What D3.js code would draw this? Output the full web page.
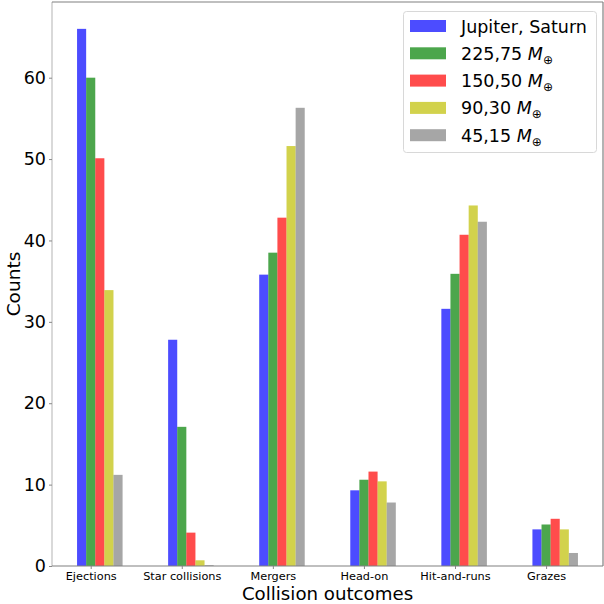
<!DOCTYPE html>
<html>
<head>
<meta charset="utf-8">
<script src="https://cdn.jsdelivr.net/npm/d3@7"></script>
<style>
  html, body { margin: 0; padding: 0; background: #fff; }
  svg { display: block; font-family: "DejaVu Sans", sans-serif; }
</style>
</head>
<body>
<svg id="chart" width="604" height="604"></svg>
<script>
// Collision outcome categories
const categories = ["Ejections", "Star collisions", "Mergers", "Head-on", "Hit-and-runs", "Grazes"];

// Counts for each planet-mass configuration
const jupiterSaturn = [66.0, 27.8, 35.8, 9.3, 31.6, 4.5];
const m225_75       = [60.0, 17.1, 38.5, 10.6, 35.9, 5.1];
const m150_50       = [50.1, 4.1, 42.8, 11.6, 40.7, 5.8];
const m90_30        = [33.9, 0.7, 51.6, 10.4, 44.3, 4.5];
const m45_15        = [11.2, 0.1, 56.3, 7.8, 42.3, 1.6];

const seriesNames = ["Jupiter, Saturn", "225,75", "150,50", "90,30", "45,15"];
const yTicks = [0, 10, 20, 30, 40, 50, 60];

const seriesValues = [jupiterSaturn, m225_75, m150_50, m90_30, m45_15];
const colors = ["#0000ff", "#008000", "#ff0000", "#bfbf00", "#808080"];
const barAlpha = 0.7;

const svg = d3.select("#chart");
const margin = { left: 52, right: 1, top: 2, bottom: 38 };
const W = 604, H = 604;

const barW = 0.1;
// offsets of each series relative to the category tick (tick sits on the 2nd bar)
const offsets = seriesValues.map((_, i) => (i - 1) * barW);

const xMin = -0.15 - 0.275, xMax = 5.35 + 0.275;
const x = d3.scaleLinear().domain([xMin, xMax]).range([margin.left, W - margin.right]);
const yMax = 66.0 * 1.05;
const y = d3.scaleLinear().domain([0, yMax]).range([H - margin.bottom, margin.top]);

// bars
seriesValues.forEach((vals, si) => {
  svg.append("g")
    .selectAll("rect")
    .data(vals)
    .join("rect")
    .attr("x", (d, ci) => x(ci + offsets[si] - barW / 2))
    .attr("width", (d, ci) => x(ci + offsets[si] + barW / 2) - x(ci + offsets[si] - barW / 2))
    .attr("y", d => y(d))
    .attr("height", d => y(0) - y(d))
    .attr("fill", colors[si])
    .attr("fill-opacity", barAlpha);
});

// spines
const x0 = margin.left, x1 = W - margin.right, y0 = H - margin.bottom, y1 = margin.top;
svg.append("line").attr("x1", x0).attr("x2", x0).attr("y1", y1).attr("y2", y0)
  .attr("stroke", "#c0c0c0").attr("stroke-width", 1.2);
svg.append("line").attr("x1", x0).attr("x2", x1).attr("y1", y1).attr("y2", y1)
  .attr("stroke", "#808080").attr("stroke-width", 1.2);
svg.append("line").attr("x1", x1).attr("x2", x1).attr("y1", y1).attr("y2", y0)
  .attr("stroke", "#808080").attr("stroke-width", 1.2);
svg.append("line").attr("x1", x0).attr("x2", x1).attr("y1", y0).attr("y2", y0)
  .attr("stroke", "#808080").attr("stroke-width", 1.2);

// y axis
const yAxis = svg.append("g")
  .attr("transform", `translate(${x0},0)`)
  .call(d3.axisLeft(y).tickValues(yTicks).tickSize(3).tickPadding(3).tickFormat(d3.format("d")));
yAxis.select(".domain").remove();
yAxis.selectAll(".tick line").attr("stroke", "#888");
yAxis.selectAll("text").attr("font-size", 17.5).attr("fill", "#000")
  .attr("font-family", "DejaVu Sans");

// x axis
const xAxis = svg.append("g")
  .attr("transform", `translate(0,${y0})`)
  .call(d3.axisBottom(x).tickValues(d3.range(categories.length)).tickSize(3).tickPadding(2.5)
    .tickFormat(i => categories[i]));
xAxis.select(".domain").remove();
xAxis.selectAll(".tick line").attr("stroke", "#888");
xAxis.selectAll("text").attr("font-size", 11.3).attr("fill", "#000")
  .attr("font-family", "DejaVu Sans");

// axis titles
svg.append("text")
  .attr("x", (x0 + x1) / 2).attr("y", 599.5)
  .attr("text-anchor", "middle").attr("font-size", 18.2).text("Collision outcomes");
svg.append("text")
  .attr("transform", `translate(20,${(y0 + y1) / 2}) rotate(-90)`)
  .attr("text-anchor", "middle").attr("font-size", 18.5).text("Counts");

// legend
const lg = svg.append("g");
lg.append("rect")
  .attr("x", 403.5).attr("y", 11.5).attr("width", 193).attr("height", 141).attr("rx", 3)
  .attr("fill", "#fff").attr("fill-opacity", 0.8)
  .attr("stroke", "#d8d8d8").attr("stroke-width", 1);
seriesNames.forEach((name, i) => {
  const cy = 26 + i * 27.3;
  lg.append("rect")
    .attr("x", 410).attr("y", cy - 6).attr("width", 36).attr("height", 12)
    .attr("fill", colors[i]).attr("fill-opacity", barAlpha);
  const t = lg.append("text").attr("x", 461).attr("y", cy + 6.5).attr("font-size", 17.5).attr("fill", "#000");
  if (i === 0) {
    t.text(name);
  } else {
    t.append("tspan").text(name + " ");
    t.append("tspan").attr("font-style", "italic").text("M");
    t.append("tspan").attr("font-size", 12).attr("dy", 4).text("\u2295");
  }
});
</script>
</body>
</html>
